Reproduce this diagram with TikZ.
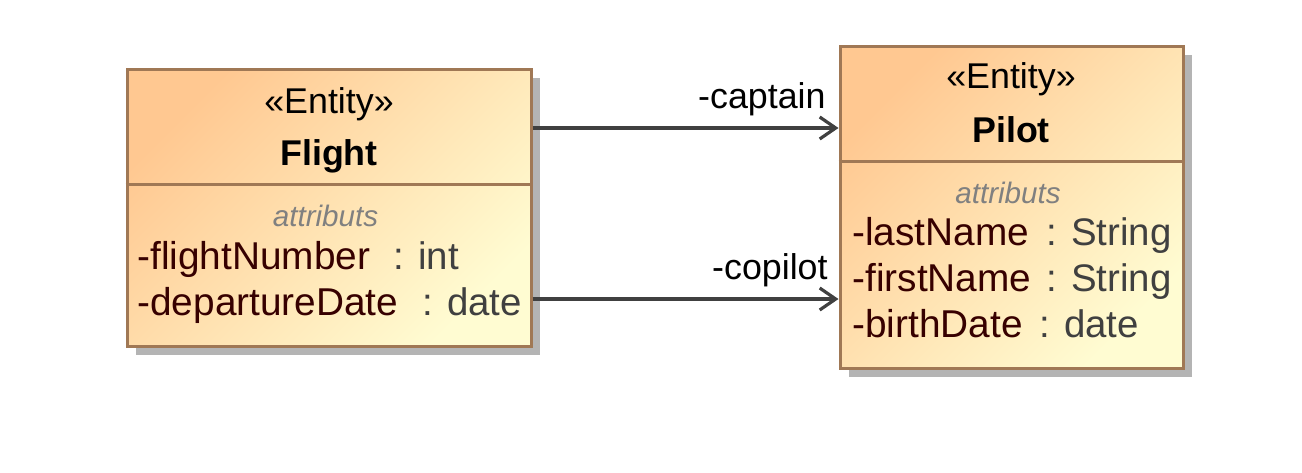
\documentclass[tikz,border=0pt]{standalone}
\usepackage{fontspec}
\setmainfont{Liberation Sans}
\usetikzlibrary{arrows.meta, shadows}

\begin{document}
\begin{tikzpicture}[
    x=0.5pt, y=-0.5pt,
    % Styles
    entity/.style={
        rectangle, draw=boxbrown, line width=1.5pt,
        top color=fillorange, bottom color=filllight, shading angle=45,
        general shadow={fill=shadowgray, shadow xshift=4.5pt, shadow yshift=-4.5pt},
        inner sep=0pt
    },
    divider/.style={draw=boxbrown, line width=1.5pt},
    stereo/.style={
        anchor=base, inner sep=0pt,
        font=\fontsize{17.9}{20}\selectfont, text=black
    },
    classname/.style={
        anchor=base, inner sep=0pt,
        font=\fontsize{17.9}{20}\selectfont\bfseries, text=black
    },
    section/.style={
        anchor=base, inner sep=0pt,
        font=\fontsize{14.8}{17}\selectfont\itshape, text=sectiongray
    },
    attrname/.style={
        anchor=base west, inner sep=0pt,
        font=\fontsize{19.4}{22}\selectfont, text=namered
    },
    attrtype/.style={
        anchor=base west, inner sep=0pt,
        font=\fontsize{19.2}{22}\selectfont, text=typegray
    },
    role/.style={
        anchor=base east, inner sep=0pt,
        font=\fontsize{17.9}{20}\selectfont, text=black
    },
    assoc/.style={
        -{Straight Barb[length=8pt, width=11pt, line width=1.6pt]},
        line width=1.6pt, draw=linegray
    },
]
% Define colors
\definecolor{boxbrown}{RGB}{160,120,85}
\definecolor{fillorange}{RGB}{255,200,145}
\definecolor{filllight}{RGB}{255,252,210}
\definecolor{shadowgray}{RGB}{180,180,180}
\definecolor{sectiongray}{RGB}{128,128,128}
\definecolor{namered}{RGB}{55,0,0}
\definecolor{typegray}{RGB}{64,64,64}
\definecolor{linegray}{RGB}{64,64,64}

\useasboundingbox (0,0) rectangle (1302,472);

% Entity boxes
\node[entity, minimum width=202pt, minimum height=138.5pt] (flight) at (329,207.5) {};
\node[entity, minimum width=171.5pt, minimum height=161pt] (pilot) at (1011.5,207) {};

% Compartment lines
\coordinate (flightsplit) at (0,184);
\coordinate (pilotsplit) at (0,161);
\draw[divider] (flight.west |- flightsplit) -- (flight.east |- flightsplit);
\draw[divider] (pilot.west |- pilotsplit) -- (pilot.east |- pilotsplit);

% Flight
\node[stereo] (flightstereo) at (329,113) {«Entity»};
\node[classname] (flightname) at (329,165) {Flight};
\node[section] (flightattr) at (325.5,226) {attributs};
\node[attrname] (flightnumber) at (137,269) {-flightNumber};
\node[attrtype] (flightnumbertype) at (393,269) {: int};
\node[attrname] (departure) at (137,315) {-departureDate};
\node[attrtype] (departuretype) at (422,315) {: date};

% Pilot
\node[stereo] (pilotstereo) at (1011,88) {«Entity»};
\node[classname] (pilotname) at (1011,142) {Pilot};
\node[section] (pilotattr) at (1008,203) {attributs};
\node[attrname] (lastname) at (852,245) {-lastName};
\node[attrtype] (lastnametype) at (1046,245) {: String};
\node[attrname] (firstname) at (852,291) {-firstName};
\node[attrtype] (firstnametype) at (1046,291) {: String};
\node[attrname] (birthdate) at (852,337) {-birthDate};
\node[attrtype] (birthdatetype) at (1039,337) {: date};

% Associations
\coordinate (captainrow) at (0,128);
\coordinate (copilotrow) at (0,299);
\draw[assoc] (flight.east |- captainrow) -- (pilot.west |- captainrow);
\draw[assoc] (flight.east |- copilotrow) -- (pilot.west |- copilotrow);

% Role labels
\node[role] (captain) at (826,108) {-captain};
\node[role] (copilot) at (828,279) {-copilot};

\end{tikzpicture}
\end{document}
